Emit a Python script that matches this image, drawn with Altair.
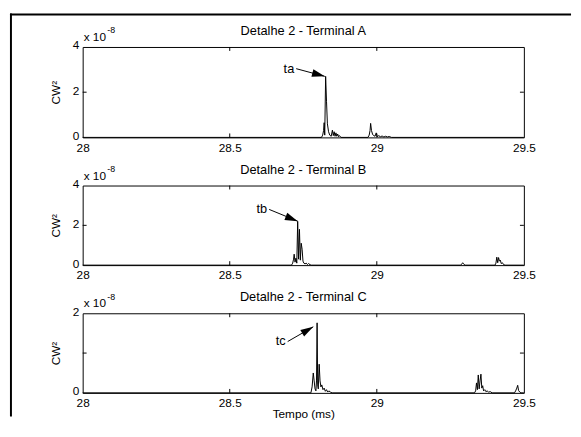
import altair as alt
import pandas as pd

FONT = "Liberation Sans"

# ---------------- data ----------------
X_DOMAIN = [28.0, 29.5]
X_TICKS = [28, 28.5, 29, 29.5]
X_INNER = [28.5, 29]

TITLES = ["Detalhe 2 - Terminal A", "Detalhe 2 - Terminal B", "Detalhe 2 - Terminal C"]
Y_MAX = [4, 4, 2]
Y_TICKS = [[0, 2, 4], [0, 2, 4], [0, 1, 2]]
Y_INNER = [[2], [2], [1]]

# Terminal A (values in units of 1e-8)
a_t = [28.0, 28.812, 28.816, 28.819, 28.821, 28.823, 28.826, 28.829, 28.832, 28.836,
       28.840, 28.845, 28.849, 28.852, 28.855, 28.858, 28.861, 28.864, 28.867, 28.870,
       28.873, 28.878, 28.970, 28.974, 28.977, 28.979, 28.982, 28.986, 28.990, 28.994,
       28.998, 29.002, 29.006, 29.012, 29.018, 29.024, 29.030, 29.036, 29.042, 29.050, 29.5]
a_v = [0, 0, 0.1, 0.3, 0.65, 0.1, 2.7, 1.6, 0.6, 0.25,
       0.1, 0.05, 0.32, 0.08, 0.25, 0.05, 0.2, 0.05, 0.15, 0.03,
       0.08, 0, 0, 0.1, 0.3, 0.62, 0.3, 0.12, 0.08, 0.05,
       0.2, 0.02, 0.08, 0.03, 0.06, 0.02, 0.05, 0.02, 0.04, 0, 0]

# Terminal B
b_t = [28.0, 28.710, 28.714, 28.717, 28.719, 28.722, 28.725, 28.728, 28.731, 28.734,
       28.737, 28.740, 28.743, 28.746, 28.749, 28.752, 28.756, 28.760, 28.764, 28.768,
       28.773, 28.778, 29.285, 29.289, 29.292, 29.296, 29.300, 29.402, 29.405, 29.408,
       29.411, 29.414, 29.417, 29.420, 29.423, 29.427, 29.431, 29.436, 29.5]
b_v = [0, 0, 0.1, 0.3, 0.55, 0.15, 0.35, 0.1, 2.2, 0.3,
       1.8, 0.25, 1.1, 0.8, 0.2, 0.1, 0.06, 0.1, 0.03, 0.08,
       0.02, 0, 0, 0.06, 0.12, 0.04, 0, 0, 0.1, 0.4,
       0.12, 0.38, 0.2, 0.25, 0.08, 0.12, 0.03, 0, 0]

# Terminal C
c_t = [28.0, 28.776, 28.780, 28.784, 28.787, 28.790, 28.793, 28.795, 28.797, 28.799,
       28.801, 28.804, 28.807, 28.810, 28.813, 28.817, 28.821, 28.825, 28.829, 28.833,
       28.837, 28.842, 28.848, 29.332, 29.336, 29.339, 29.342, 29.345, 29.348, 29.351,
       29.354, 29.357, 29.360, 29.363, 29.367, 29.371, 29.375, 29.380, 29.386, 29.392,
       29.468, 29.472, 29.476, 29.479, 29.482, 29.486, 29.490, 29.5]
c_v = [0, 0, 0.15, 0.5, 0.3, 0.1, 0.05, 0.3, 1.76, 0.2,
       0.1, 0.72, 0.3, 0.15, 0.2, 0.08, 0.12, 0.04, 0.08, 0.02,
       0.05, 0.02, 0, 0, 0.05, 0.25, 0.08, 0.45, 0.1, 0.3,
       0.47, 0.12, 0.18, 0.05, 0.08, 0.03, 0.05, 0.02, 0.03, 0,
       0, 0.05, 0.12, 0.19, 0.06, 0.02, 0, 0]

SERIES_T = [a_t, b_t, c_t]
SERIES_V = [a_v, b_v, c_v]

ANN_TEXT = ["ta", "tb", "tc"]
ANN_TAIL_T = [28.726, 28.634, 28.697]
ANN_TAIL_V = [3.04, 2.80, 1.29]
ANN_TIP_T = [28.823, 28.731, 28.784]
ANN_TIP_V = [2.70, 2.21, 1.66]

# ---------------- style ----------------
W = 449
H = [92, 81, 81]
FS = 12
FT = 13
ANN_ANGLE = [15, 22, 330]
ARROW = "M0,0L-1,-0.3L-1,0.3Z"


def panel(i, show_xtitle, frame=False):
    w, h = W, H[i]
    xs = alt.Scale(domain=X_DOMAIN, nice=False, zero=False)
    ys = alt.Scale(domain=[0, Y_MAX[i]], nice=False, zero=False)
    df = pd.DataFrame({"t": SERIES_T[i], "v": SERIES_V[i]})

    xax = alt.Axis(values=X_TICKS, format="~g", labelFlush=False, labelPadding=5,
                   titlePadding=0, labelOverlap=False)
    yax = alt.Axis(values=Y_TICKS[i], format="d", labelFlush=False, labelPadding=4,
                   labelOffset=-2, titlePadding=10, labelOverlap=False)

    line = alt.Chart(df).mark_line(color="black", strokeWidth=1).encode(
        x=alt.X("t:Q", scale=xs, axis=xax, title="Tempo (ms)" if show_xtitle else None),
        y=alt.Y("v:Q", scale=ys, axis=yax, title="CW²"),
    )

    xt = alt.Chart(pd.DataFrame({"t": X_INNER}))
    tb = xt.mark_rule(color="black", strokeWidth=1).encode(
        x=alt.X("t:Q", scale=xs), y=alt.value(h), y2=alt.value(h - 4))
    tt = xt.mark_rule(color="black", strokeWidth=1).encode(
        x=alt.X("t:Q", scale=xs), y=alt.value(0), y2=alt.value(4))
    yt = alt.Chart(pd.DataFrame({"v": Y_INNER[i]}))
    tl = yt.mark_rule(color="black", strokeWidth=1).encode(
        y=alt.Y("v:Q", scale=ys), x=alt.value(0), x2=alt.value(4))
    tr = yt.mark_rule(color="black", strokeWidth=1).encode(
        y=alt.Y("v:Q", scale=ys), x=alt.value(w - 4), x2=alt.value(w))

    ann = alt.Chart(pd.DataFrame({
        "t": [ANN_TAIL_T[i]], "v": [ANN_TAIL_V[i]],
        "t2": [ANN_TIP_T[i]], "v2": [ANN_TIP_V[i]], "s": [ANN_TEXT[i]]}))
    shaft = ann.mark_rule(color="black", strokeWidth=1).encode(
        x=alt.X("t:Q", scale=xs), y=alt.Y("v:Q", scale=ys),
        x2="t2:Q", y2="v2:Q")
    head = ann.mark_point(shape=ARROW, filled=True, size=676, color="black", opacity=1,
                          strokeWidth=0, angle=ANN_ANGLE[i]).encode(
        x=alt.X("t2:Q", scale=xs), y=alt.Y("v2:Q", scale=ys))
    label = ann.mark_text(align="right", baseline="middle", dx=-2, font=FONT,
                          fontSize=FT, color="black").encode(
        x=alt.X("t:Q", scale=xs), y=alt.Y("v:Q", scale=ys), text="s:N")

    one = alt.Chart(pd.DataFrame({"s": [TITLES[i]], "e": ["x 10"], "p": ["-8"]}))
    title = one.mark_text(align="center", baseline="alphabetic", font=FONT, fontSize=FT,
                          color="black").encode(text="s:N", x=alt.value(w / 2), y=alt.value(-12))
    exp1 = one.mark_text(align="left", baseline="alphabetic", font=FONT, fontSize=FS,
                         color="black").encode(text="e:N", x=alt.value(1), y=alt.value(-6))
    exp2 = one.mark_text(align="left", baseline="alphabetic", font=FONT, fontSize=9,
                         color="black").encode(text="p:N", x=alt.value(25), y=alt.value(-14))

    layers = [line, tb, tt, tl, tr, shaft, head, label, title, exp1, exp2]
    if frame:
        fr = alt.Chart(pd.DataFrame({"k": [0]}))
        layers.append(fr.mark_rule(color="black", strokeWidth=2).encode(
            x=alt.value(-73), y=alt.value(-34), y2=alt.value(376)))
        layers.append(fr.mark_rule(color="black", strokeWidth=2).encode(
            y=alt.value(-33), x=alt.value(-74), x2=alt.value(497)))
    return alt.layer(*layers).properties(width=w, height=h)


chart = alt.vconcat(
    panel(0, False, frame=True),
    panel(1, False),
    panel(2, True),
    spacing=49,
    bounds="flush",
    padding=0,
).configure_view(
    stroke="black", strokeWidth=1
).configure_axis(
    labelFont=FONT, titleFont=FONT, labelFontSize=FS, titleFontSize=FS,
    titleFontWeight="normal", labelColor="black", titleColor="black",
    domain=False, ticks=False, grid=False,
)

chart.save("out.html", embed_options={"renderer": "svg", "actions": False})
